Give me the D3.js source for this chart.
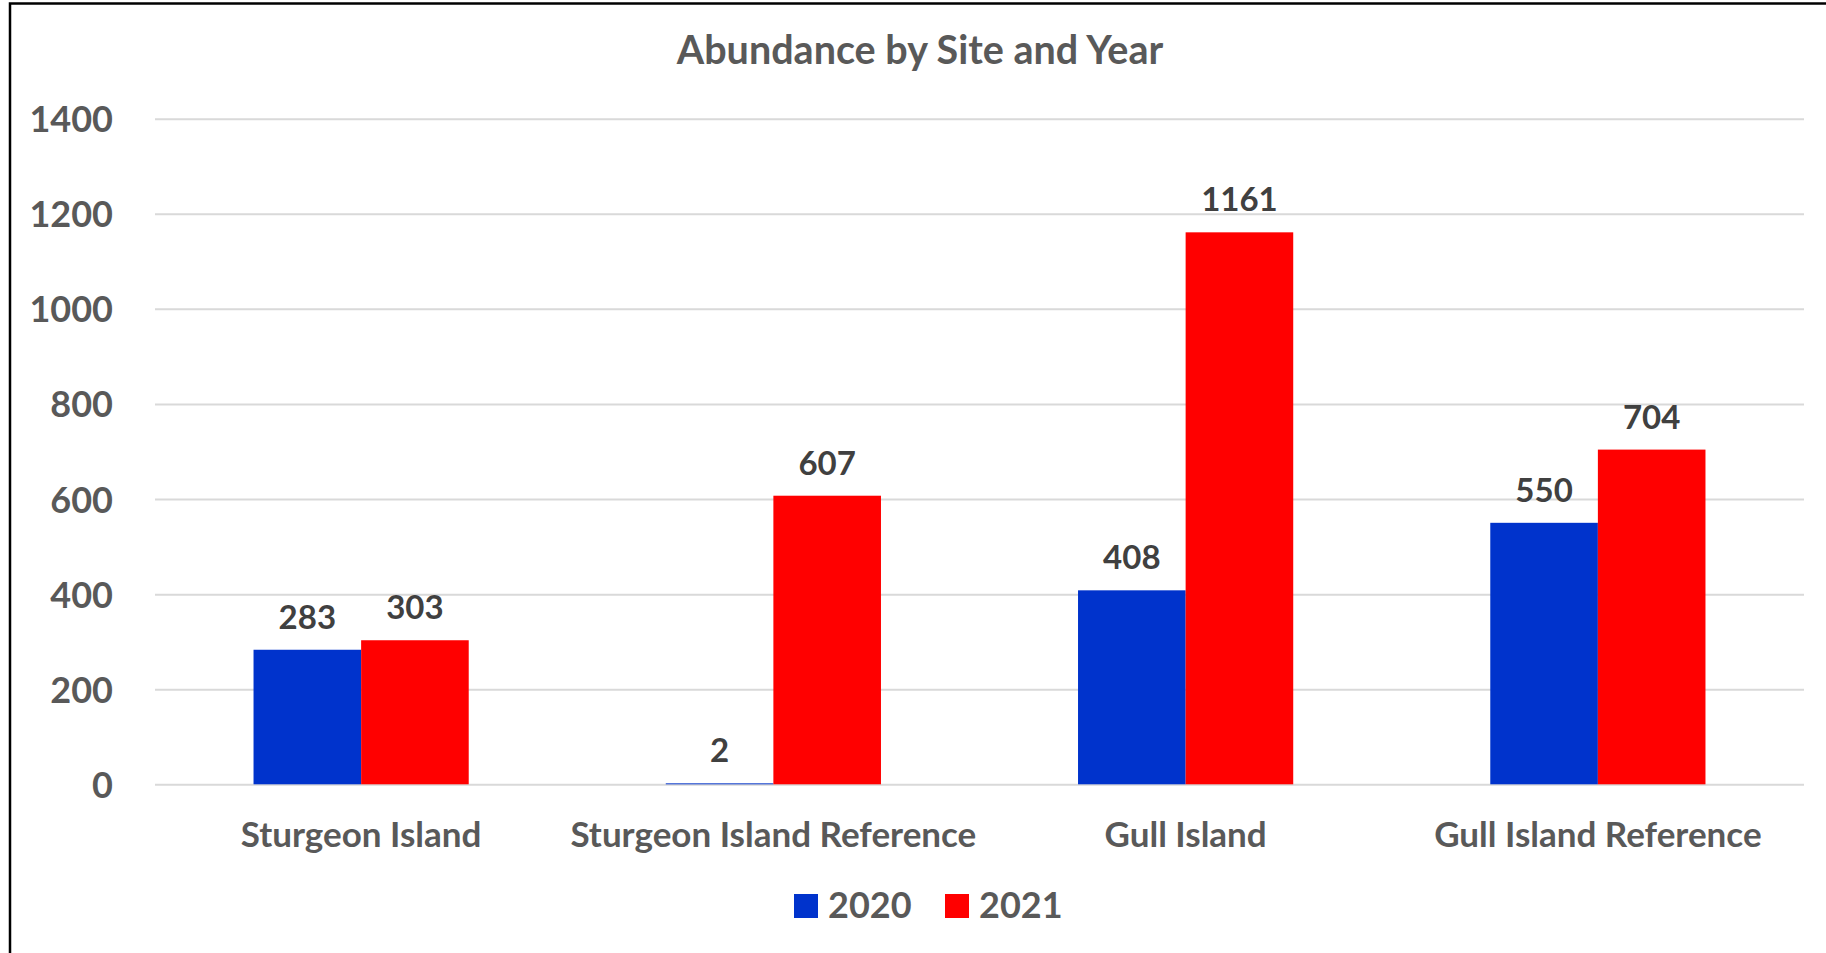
<!DOCTYPE html>
<html>
<head>
<meta charset="utf-8">
<script src="https://cdn.jsdelivr.net/npm/d3@7"></script>
<style>
    body { margin: 0; background: #fff; }
    text { font-family: Lato, "Open Sans", sans-serif; font-weight: bold; }
</style>
</head>
<body>
<div id="graph-location"></div>
<script>
var sites = ["Sturgeon Island", "Sturgeon Island Reference", "Gull Island", "Gull Island Reference"];
var years = ["2020", "2021"];
var values2020 = [283, 2, 408, 550];
var values2021 = [303, 607, 1161, 704];
var yTicks = [0, 200, 400, 600, 800, 1000, 1200, 1400];
var yearColors = ["#0033CC", "#FF0000"];

var width = 1826,
    height = 953;
var plot = { left: 155, right: 1804, top: 118.7, bottom: 784.3 };

// one row per site, built from the arrays
var data = sites.map(function(s, i) {
    return { site: s, values: [values2020[i], values2021[i]] };
});

var x = d3.scaleBand()
    .domain(sites)
    .range([plot.left, plot.right])
    .paddingInner(0.478)
    .paddingOuter(0.239);

var xYear = d3.scaleBand()
    .domain(years)
    .range([0, x.bandwidth()]);

var y = d3.scaleLinear()
    .domain([0, 1400])
    .range([plot.bottom, plot.top]);

var color = d3.scaleOrdinal()
    .domain(years)
    .range(yearColors);

var svg = d3.select("#graph-location")
    .append("svg")
    .attr("width", width)
    .attr("height", height);

//frame (cut off on the right and bottom like the original)
svg.append("path")
    .attr("d", "M10,953 V3.5 H1826")
    .attr("fill", "none")
    .attr("stroke", "#000")
    .attr("stroke-width", 2.5);

//title
svg.append("text")
    .attr("x", 920)
    .attr("y", 64)
    .attr("text-anchor", "middle")
    .attr("font-size", 39.5)
    .attr("fill", "#595959")
    .text("Abundance by Site and Year");

//y axis with gridlines
var yAxis = svg.append("g")
    .attr("class", "y-axis")
    .attr("transform", "translate(" + plot.left + ", 0)")
    .call(d3.axisLeft(y)
        .tickValues(yTicks)
        .tickSize(-(plot.right - plot.left))
        .tickPadding(42)
        .tickFormat(d3.format("d")));

yAxis.select(".domain").remove();
yAxis.selectAll("line")
    .attr("stroke", "#D9D9D9")
    .attr("stroke-width", 2);
yAxis.selectAll("text")
    .attr("font-size", 36)
    .attr("fill", "#595959")
    .attr("dy", "0.36em");

//bars
var groups = svg.append("g")
    .selectAll("g")
    .data(data)
    .join("g")
    .attr("transform", function(d) { return "translate(" + x(d.site) + ", 0)"; });

groups.selectAll("rect")
    .data(function(d) {
        return years.map(function(yr, i) { return { year: yr, value: d.values[i] }; });
    })
    .join("rect")
    .attr("x", function(d) { return xYear(d.year); })
    .attr("y", function(d) { return y(d.value); })
    .attr("width", xYear.bandwidth())
    .attr("height", function(d) { return y(0) - y(d.value); })
    .attr("fill", function(d) { return color(d.year); });

//data labels
groups.selectAll("text")
    .data(function(d) {
        return years.map(function(yr, i) { return { year: yr, value: d.values[i] }; });
    })
    .join("text")
    .attr("x", function(d) { return xYear(d.year) + xYear.bandwidth() / 2; })
    .attr("y", function(d) { return y(d.value) - 21; })
    .attr("text-anchor", "middle")
    .attr("font-size", 33)
    .attr("fill", "#404040")
    .text(function(d) { return d.value; });

//x axis labels
var xAxis = svg.append("g")
    .attr("class", "x-axis")
    .attr("transform", "translate(0, " + plot.bottom + ")")
    .call(d3.axisBottom(x).tickSize(0));

xAxis.select(".domain").remove();
xAxis.selectAll("text")
    .attr("y", 63)
    .attr("dy", 0)
    .attr("font-size", 35)
    .attr("fill", "#595959");

//legend
var legend = svg.append("g")
    .selectAll("g")
    .data(years)
    .join("g")
    .attr("transform", function(d, i) { return "translate(" + (794 + i * 151) + ", 894)"; });

legend.append("rect")
    .attr("width", 24)
    .attr("height", 24)
    .attr("fill", function(d) { return color(d); });

legend.append("text")
    .attr("x", 34)
    .attr("y", 24)
    .attr("font-size", 36)
    .attr("fill", "#595959")
    .text(function(d) { return d; });
</script>
</body>
</html>
